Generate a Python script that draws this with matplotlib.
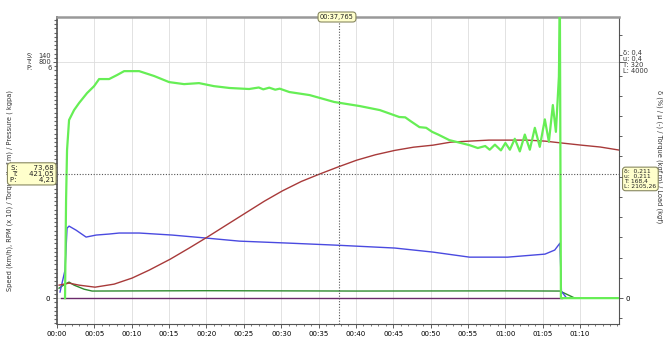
import matplotlib
matplotlib.use("Agg")
import matplotlib.pyplot as plt
import matplotlib.transforms as mtransforms
from matplotlib.ticker import MultipleLocator, FuncFormatter

# time in minutes, values in left-axis units (0..140 scale)
green_t = [1.07, 1.21, 1.34, 1.61, 2.28, 2.95, 4.02, 4.96, 5.63, 6.97, 8.04, 8.98, 10.99, 13.0, 15.0,
           17.0, 19.0, 21.0, 23.1, 25.7, 27.0, 27.6, 28.4, 29.2, 29.8, 31.1, 33.8, 37.1, 40.5, 43.2, 45.8,
           46.6, 47.3, 48.5, 49.4, 50.2, 51.0, 52.5, 55.2, 56.3, 57.3, 57.9, 58.6, 59.4, 60.0, 60.6,
           61.26, 61.93, 62.6, 63.27, 63.94, 64.6, 65.28, 65.82, 66.35, 66.76, 67.16, 67.29, 67.43, 75.2]
green_v = [0, 58.1, 87.8, 105.6, 111.5, 115.7, 121.6, 125.7, 129.9, 129.9, 132.3, 134.6, 134.6, 131.7, 128.1,
           126.9, 127.5, 125.7, 124.6, 124.0, 124.9, 123.8, 124.8, 123.6, 124.2, 122.2, 120.4, 116.3, 113.9, 111.5, 107.4,
           107.2, 105.0, 101.4, 101.0, 98.6, 97.0, 93.7, 90.7, 89.0, 90.2, 88.0, 91.0, 87.6, 92.0, 88.0,
           94.5, 87.0, 97.0, 88.0, 101.0, 89.7, 106.0, 92.7, 114.5, 98.6, 131.3, 175.0, 0, 0]

red_t = [0.27, 1.61, 2.95, 5.09, 7.64, 10.05, 12.33, 15.15, 17.69, 20.11, 22.65, 25.2, 27.75, 30.16,
         32.7, 35.1, 37.5, 40.1, 42.6, 45.2, 47.7, 50.3, 52.7, 55.2, 57.8, 60.3, 62.9, 65.3, 67.7,
         70.2, 72.7, 75.2]
red_v = [7.7, 8.9, 7.7, 6.5, 8.3, 11.9, 16.6, 23.1, 29.7, 36.2, 43.3, 50.4, 57.5, 63.6,
         69.2, 73.5, 77.6, 81.8, 85.0, 87.6, 89.5, 90.7, 92.5, 93.1, 93.7, 93.7, 93.7, 93.1, 91.9,
         90.7, 89.6, 87.8]

blue_t = [0.4, 1.07, 1.34, 1.61, 2.55, 3.89, 5.23, 6.97, 8.31, 11.0, 15.4, 20.0, 24.4, 31.1, 37.4,
          45.2, 50.3, 55.2, 60.3, 65.3, 66.6, 67.3, 67.5, 68.2]
blue_v = [3.6, 16.6, 41.5, 42.7, 40.3, 36.2, 37.4, 38.0, 38.6, 38.6, 37.4, 35.6, 33.8, 32.6, 31.4,
          29.7, 27.3, 24.3, 24.3, 26.1, 28.5, 32.6, 4.0, 0]

dgreen_t = [0.27, 1.07, 1.61, 2.28, 3.62, 4.69, 20.0, 40.0, 60.0, 67.3, 69.3]
dgreen_v = [5.9, 8.3, 9.5, 7.7, 5.3, 4.2, 4.4, 4.2, 4.3, 4.2, 0]

purple_t = [0.54, 67.6]
purple_v = [0, 0]

cursor_t = 37.765
cursor_v = 73.68
xticks = list(range(0, 75, 5))

fig = plt.figure(figsize=(6.67, 3.47), dpi=100)
ax = fig.add_axes([0.0855, 0.066, 0.8425, 0.885])

ax.plot(purple_t, purple_v, color="#6b2a6b", lw=1.0, zorder=3)
ax.plot(dgreen_t, dgreen_v, color="#2e8b2e", lw=1.0, zorder=3)
ax.plot(blue_t, blue_v, color="#4a4ae0", lw=1.0, zorder=4)
ax.plot(red_t, red_v, color="#a83a3a", lw=1.0, zorder=4)
ax.plot(green_t, green_v, color="#66ee55", lw=1.6, zorder=5)

ax.set_xlim(0, 75.2)
ax.set_ylim(-15.4, 166.7)

ax.set_xticks(xticks)
ax.xaxis.set_major_formatter(FuncFormatter(lambda v, p: "%02d:%02d" % (int(v) // 60, int(v) % 60)))
ax.xaxis.set_minor_locator(MultipleLocator(1))
ax.tick_params(axis="x", labelsize=5, length=3, width=0.6, color="#444444", pad=2)
ax.tick_params(axis="x", which="minor", length=1.5, width=0.5, color="#444444")

ax.set_yticks([0, 140])
ax.set_yticklabels(["0", ""])
ax.yaxis.set_minor_locator(MultipleLocator(2.5))
ax.tick_params(axis="y", labelsize=5, length=3, width=0.6, color="#444444", pad=2)
ax.tick_params(axis="y", which="minor", length=2, width=0.8, color="#666666")

ax.grid(True, which="major", color="#dddddd", lw=0.6)
ax.set_axisbelow(True)

for side in ["left", "bottom", "right"]:
    ax.spines[side].set_color("#555555")
    ax.spines[side].set_linewidth(0.8)
ax.spines["left"].set_linewidth(1.2)
ax.spines["top"].set_color("#999999")
ax.spines["top"].set_linewidth(1.8)

ax2 = ax.twinx()
ax2.set_ylim(ax.get_ylim())
ax2.set_yticks([0, 140])
ax2.set_yticklabels(["0", ""])
ax2.yaxis.set_minor_locator(MultipleLocator(12))
ax2.tick_params(axis="y", labelsize=5, length=3, width=0.6, color="#444444", pad=2)
ax2.tick_params(axis="y", which="minor", length=2, width=0.6, color="#444444")
for s in ax2.spines.values():
    s.set_visible(False)

# cursor lines
ax.axvline(cursor_t, color="#555555", lw=0.8, ls=(0, (1, 1.5)), zorder=6)
ax.axhline(cursor_v, color="#555555", lw=0.8, ls=(0, (1, 1.5)), zorder=6)

trans_l = mtransforms.blended_transform_factory(fig.transFigure, ax.transData)
fs = 4.8
ax.text(0.040, 140, "S:\nT:\nP:", transform=trans_l, fontsize=fs, ha="left", va="center",
        linespacing=1.05, color="#333333")
ax.text(0.077, 140, "140\n800\n6", transform=trans_l, fontsize=fs, ha="right", va="center",
        linespacing=1.05, color="#333333")
ax.text(0.934, 140, "δ: 0,4\nu: 0,4\nT: 320\nL: 4000", transform=trans_l, fontsize=fs, ha="left",
        va="center", linespacing=1.05, color="#333333")

box = dict(boxstyle="round,pad=0.3,rounding_size=0.5", fc="#ffffcc", ec="#888860", lw=0.8)
ax.text(0.081, cursor_v, "S:       73,68\nT:     421,05\nP:          4,21", transform=trans_l,
        fontsize=5.0, ha="right", va="center", linespacing=1.0, color="#222222", bbox=box, zorder=10)
ax.text(0.936, cursor_v - 3, "δ:  0,211\nu:  0,211\nT: 168,4\nL: 2105,26", transform=trans_l,
        fontsize=4.3, ha="left", va="center", linespacing=1.0, color="#222222", bbox=box, zorder=10)
trans_t = mtransforms.blended_transform_factory(ax.transData, ax.transAxes)
ax.text(cursor_t - 0.3, 1.0, "00:37,765", transform=trans_t, fontsize=fs, ha="center", va="center",
        color="#222222", bbox=box, zorder=10, clip_on=False)

fig.text(0.014, 0.45, "Speed (km/h), RPM (x 10) / Torque (kgf.m) / Pressure ( kgpa)", rotation=90,
         fontsize=4.8, ha="center", va="center", color="#333333", zorder=-1)
fig.text(0.988, 0.55, "δ (%) / μ (-) / Torque (kgf.m) / Load (kgf)", rotation=270,
         fontsize=4.8, ha="center", va="center", color="#333333", zorder=-1)

fig.savefig("out.png", dpi=100)
